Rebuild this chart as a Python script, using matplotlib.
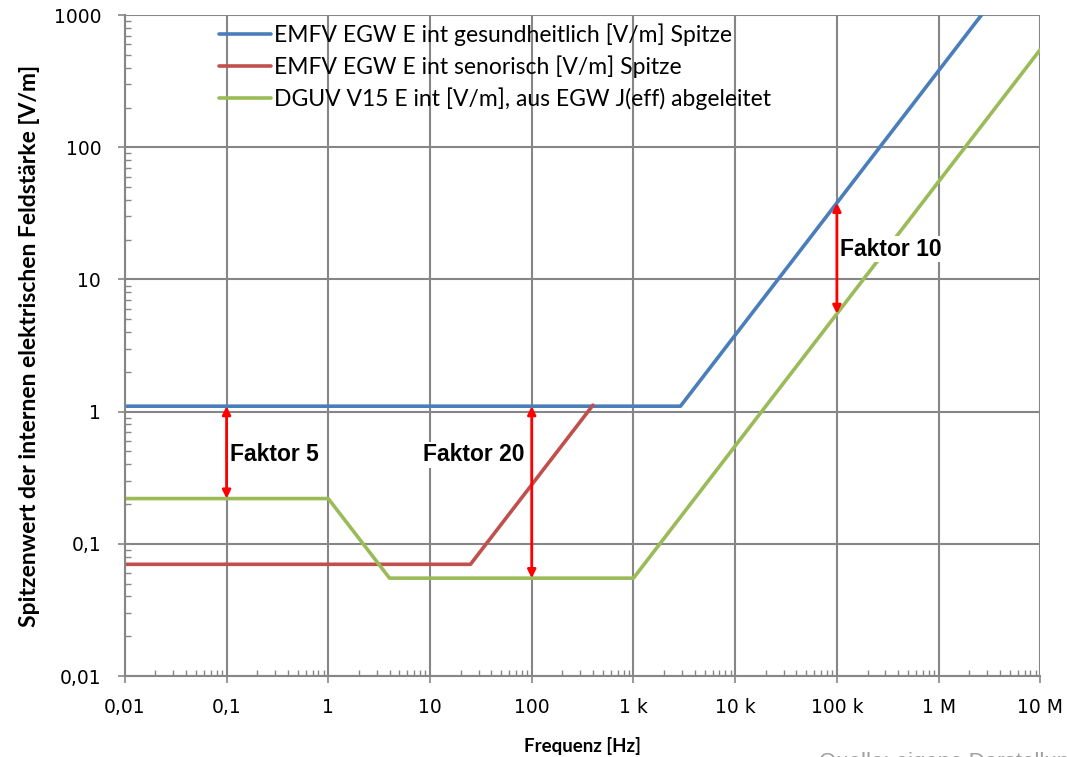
import matplotlib.pyplot as plt
from matplotlib.ticker import FixedLocator, LogLocator, NullFormatter

# Grenzwerte (Stuetzstellen, Frequenz in Hz)
f_ges = [0.01, 2900, 1e7]
e_ges = [1.1, 1.1, 3800]
f_sen = [0.01, 25, 400]
e_sen = [0.07, 0.07, 1.12]
f_dguv = [0.01, 1, 4, 1000, 1e7]
e_dguv = [0.22, 0.22, 0.055, 0.055, 550]

labels = ['EMFV EGW E int gesundheitlich [V/m] Spitze',
          'EMFV EGW E int senorisch [V/m] Spitze',
          'DGUV V15 E int [V/m], aus EGW J(eff) abgeleitet']
colors = ['#4A7EBB', '#C0504D', '#9BBB59']

x_ticks = [0.01, 0.1, 1, 10, 100, 1e3, 1e4, 1e5, 1e6, 1e7]
x_labels = ['0,01', '0,1', '1', '10', '100', '1 k', '10 k', '100 k', '1 M', '10 M']
y_ticks = [0.01, 0.1, 1, 10, 100, 1000]
y_labels = ['0,01', '0,1', '1', '10', '100', '1000']

# Faktor-Pfeile: (Frequenz, oben, unten)
pfeile = [(0.1, 1.1, 0.22), (100, 1.1, 0.055), (1e5, 38, 5.5)]

fig = plt.figure(figsize=(10.67, 7.57), dpi=100)
ax = fig.add_axes([0.117, 0.107, 0.858, 0.873])

ax.plot(f_ges, e_ges, color=colors[0], lw=2.6, label=labels[0], solid_capstyle='round')
ax.plot(f_sen, e_sen, color=colors[1], lw=2.6, label=labels[1], solid_capstyle='round')
ax.plot(f_dguv, e_dguv, color=colors[2], lw=2.6, label=labels[2], solid_capstyle='round')

ax.set_xscale('log')
ax.set_yscale('log')
ax.set_xlim(0.01, 1e7)
ax.set_ylim(0.01, 1000)

ax.xaxis.set_major_locator(FixedLocator(x_ticks))
ax.set_xticklabels(x_labels, fontsize=13.5, family='DejaVu Sans')
ax.yaxis.set_major_locator(FixedLocator(y_ticks))
ax.set_yticklabels(y_labels, fontsize=13.5, family='DejaVu Sans')
ax.xaxis.set_minor_locator(LogLocator(base=10, subs=range(2, 10), numticks=20))
ax.yaxis.set_minor_locator(LogLocator(base=10, subs=range(2, 10), numticks=20))
ax.xaxis.set_minor_formatter(NullFormatter())
ax.yaxis.set_minor_formatter(NullFormatter())

ax.tick_params(which='major', direction='out', length=5, color='#868686', width=1.2)
ax.tick_params(axis='x', which='major', pad=11)
ax.tick_params(axis='y', which='major', pad=12)
ax.tick_params(which='minor', direction='in', length=4, color='#868686', width=1)
ax.grid(True, which='major', color='#868686', lw=1.5)
ax.set_axisbelow(True)
for s in ['top', 'right']:
    ax.spines[s].set_visible(False)
for s in ['left', 'bottom']:
    ax.spines[s].set_color('#868686')
    ax.spines[s].set_linewidth(1.5)

for f, oben, unten in pfeile:
    ax.annotate('', xy=(f, unten), xytext=(f, oben),
                arrowprops=dict(arrowstyle='<|-|>', color='red', lw=2, mutation_scale=12,
                                shrinkA=0, shrinkB=0))
box = dict(fc='white', ec='none', pad=1)
ax.text(0.108, 0.47, 'Faktor 5', fontsize=16.5, fontweight='bold', family='Liberation Sans',
        va='center', ha='left', bbox=box)
ax.text(85, 0.47, 'Faktor 20', fontsize=16.5, fontweight='bold', family='Liberation Sans',
        va='center', ha='right', bbox=box)
ax.text(1.08e5, 17, 'Faktor 10', fontsize=16.5, fontweight='bold', family='Liberation Sans',
        va='center', ha='left', bbox=box)

ax.legend(loc='upper left', bbox_to_anchor=(0.085, 1.012), frameon=False,
          prop={'family': 'Lato', 'size': 16.5}, handlelength=2.3, handletextpad=0.1,
          labelspacing=0.42, borderaxespad=0.3)

ax.set_xlabel('Frequenz [Hz]', fontsize=13.5, fontweight='bold', family='Lato', labelpad=14)
ax.set_ylabel('Spitzenwert der internen elektrischen Feldstärke [V/m]', fontsize=16.5,
              fontweight='bold', family='Lato', labelpad=10)

fig.text(0.768, 1 - 752 / 757, 'Quelle: eigene Darstellung', fontsize=16, color='#A0A0A0',
         family='Liberation Sans', va='top')

fig.savefig('out.png', dpi=100)
